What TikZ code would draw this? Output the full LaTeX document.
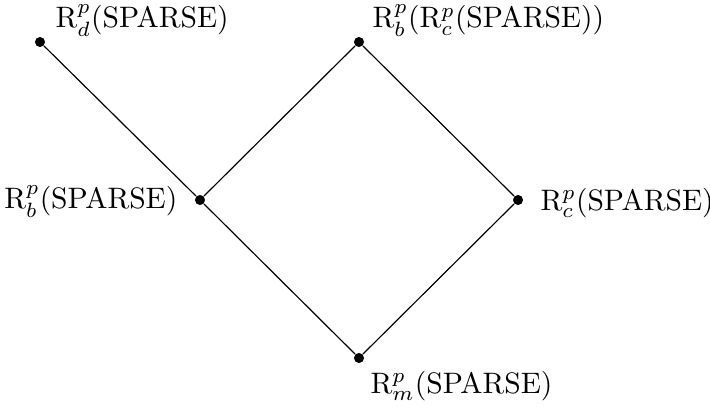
\documentclass[tikz,border=0pt]{standalone}
\tikzset{
  pt/.style={circle, fill=black, inner sep=0pt, minimum size=3.4pt},
  lab/.style={inner sep=0pt},
  edge/.style={line width=0.4pt}
}
\begin{document}
\begin{tikzpicture}[x=0.338pt, y=-0.338pt]
\useasboundingbox (0,0) rectangle (710,407);

\node[pt] (rd) at (40,42) {};
\node[pt] (rbc) at (359,42) {};
\node[pt] (rb) at (200,200) {};
\node[pt] (rc) at (518,200) {};
\node[pt] (rm) at (359,358) {};

\node[lab, anchor = base west] (rdlab) at (55,28) {$\mathrm{R}^p_d(\mathrm{SPARSE})$};
\node[lab, anchor = base west] (rbclab) at (372,28) {$\mathrm{R}^p_b(\mathrm{R}^p_c(\mathrm{SPARSE}))$};
\node[lab, anchor = base east] (rblab) at (178,209) {$\mathrm{R}^p_b(\mathrm{SPARSE})$};
\node[lab, anchor = base west] (rclab) at (540,210) {$\mathrm{R}^p_c(\mathrm{SPARSE})$};
\node[lab, anchor = base west] (rmlab) at (370,393) {$\mathrm{R}^p_m(\mathrm{SPARSE})$};

\draw[edge] (rd)--(rb);
\draw[edge] (rb)--(rbc);
\draw[edge] (rbc)--(rc);
\draw[edge] (rc)--(rm);
\draw[edge] (rm)--(rb);
\end{tikzpicture}
\end{document}
